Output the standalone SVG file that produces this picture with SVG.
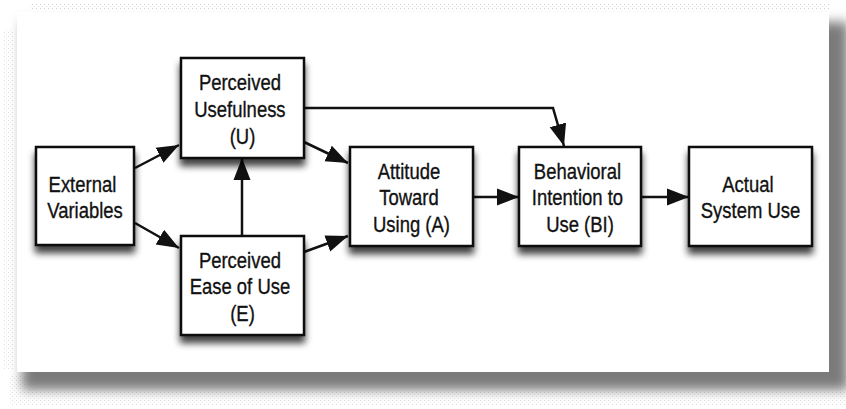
<svg xmlns="http://www.w3.org/2000/svg" width="846" height="409" viewBox="0 0 846 409">
  <defs>
    <style>
      .box { fill: #ffffff; stroke: #111111; stroke-width: 2.5; }
      .lbl { font-family: "Liberation Sans", Arial, Helvetica, sans-serif; font-size: 22px; fill: #111111; stroke: #111111; stroke-width: 0.35; text-anchor: middle; }
      .conn { fill: none; stroke: #111111; stroke-width: 2.5; stroke-linejoin: miter; }
    </style>
    <marker id="arrow" markerUnits="userSpaceOnUse" markerWidth="24" markerHeight="20" viewBox="0 0 24 20" refX="22" refY="10" orient="auto">
      <path d="M0,1.5 L22,10 L0,18.5 Z" fill="#111111"/>
    </marker>
    <filter id="boxshadow" x="-20%" y="-20%" width="140%" height="160%">
      <feGaussianBlur in="SourceAlpha" stdDeviation="3.5"/>
      <feOffset dx="0" dy="7" result="o"/>
      <feComponentTransfer><feFuncA type="linear" slope="0.75"/></feComponentTransfer>
      <feMerge><feMergeNode/><feMergeNode in="SourceGraphic"/></feMerge>
    </filter>
    <filter id="panelshadow" x="-10%" y="-10%" width="120%" height="130%">
      <feGaussianBlur stdDeviation="6"/>
    </filter>
    <pattern id="dots" width="4" height="4" patternUnits="userSpaceOnUse">
      <rect width="4" height="4" fill="#ffffff"/>
      <rect x="0" y="0" width="1" height="1" fill="#c8c8c8"/>
      <rect x="2" y="2" width="1" height="1" fill="#dddddd"/>
    </pattern>
  </defs>

  <!-- background and panel -->
  <rect x="0" y="0" width="846" height="409" fill="#ffffff"/>
  <rect x="30" y="4" width="800" height="6" fill="url(#dots)" opacity="0.8"/>
  <rect x="4" y="30" width="10" height="340" fill="url(#dots)" opacity="0.6"/>
  <rect x="10" y="375" width="836" height="30" fill="url(#dots)" opacity="0.6"/>
  <rect x="22" y="22" width="826" height="368" fill="#7a7a7a" filter="url(#panelshadow)"/>
  <rect x="17" y="12" width="812" height="360" fill="#ffffff"/>

  <!-- connectors -->
  <g id="connectors">
    <path class="conn" d="M135,168 L179,145" marker-end="url(#arrow)"/>
    <path class="conn" d="M135,223 L179,248" marker-end="url(#arrow)"/>
    <path class="conn" d="M304,142 L348,163" marker-end="url(#arrow)"/>
    <path class="conn" d="M304,252 L348,236" marker-end="url(#arrow)"/>
    <path class="conn" d="M242,235 L242,158" marker-end="url(#arrow)"/>
    <path class="conn" d="M304,108 L553,108 L564,146" marker-end="url(#arrow)"/>
    <path class="conn" d="M473,197 L519,197" marker-end="url(#arrow)"/>
    <path class="conn" d="M641,197 L689,197" marker-end="url(#arrow)"/>
  </g>

  <g id="external-variables">
    <rect class="box" x="36" y="147" width="98" height="98" filter="url(#boxshadow)"/>
    <text class="lbl" transform="translate(85,0) scale(0.84,1)">
      <tspan x="0" y="192">External</tspan>
      <tspan x="0" y="218.5">Variables</tspan>
    </text>
  </g>

  <g id="perceived-usefulness">
    <rect class="box" x="181" y="58" width="123" height="100" filter="url(#boxshadow)"/>
    <text class="lbl" transform="translate(242.5,0) scale(0.84,1)">
      <tspan x="0" y="90.5">Perceived</tspan>
      <tspan x="0" y="117">Usefulness</tspan>
      <tspan x="0" y="144">(U)</tspan>
    </text>
  </g>

  <g id="perceived-ease-of-use">
    <rect class="box" x="181" y="236" width="123" height="99" filter="url(#boxshadow)"/>
    <text class="lbl" transform="translate(242.5,0) scale(0.84,1)">
      <tspan x="0" y="268">Perceived</tspan>
      <tspan x="0" y="294.5">Ease of Use</tspan>
      <tspan x="0" y="321.5">(E)</tspan>
    </text>
  </g>

  <g id="attitude">
    <rect class="box" x="350" y="147" width="123" height="99" filter="url(#boxshadow)"/>
    <text class="lbl" transform="translate(411.5,0) scale(0.84,1)">
      <tspan x="0" y="179">Attitude</tspan>
      <tspan x="0" y="205.5">Toward</tspan>
      <tspan x="0" y="232">Using (A)</tspan>
    </text>
  </g>

  <g id="behavioral-intention">
    <rect class="box" x="519" y="147" width="122" height="99" filter="url(#boxshadow)"/>
    <text class="lbl" transform="translate(580,0) scale(0.84,1)">
      <tspan x="0" y="179">Behavioral</tspan>
      <tspan x="0" y="205.5">Intention to</tspan>
      <tspan x="0" y="232">Use (BI)</tspan>
    </text>
  </g>

  <g id="actual-system-use">
    <rect class="box" x="689" y="147" width="123" height="99" filter="url(#boxshadow)"/>
    <text class="lbl" transform="translate(750.5,0) scale(0.84,1)">
      <tspan x="0" y="192">Actual</tspan>
      <tspan x="0" y="218.5">System Use</tspan>
    </text>
  </g>
</svg>
